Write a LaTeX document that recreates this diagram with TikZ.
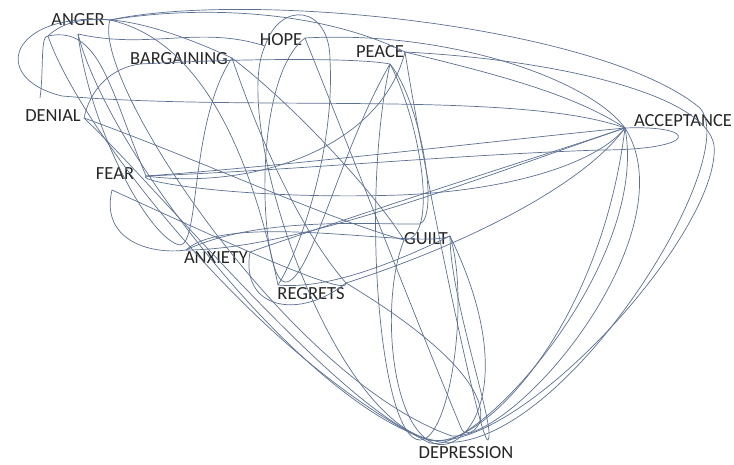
\documentclass[tikz,border=0pt]{standalone}
\usepackage{fontspec}
\setmainfont{Carlito}
\definecolor{scrib}{RGB}{92,112,146}
\begin{document}
\begin{tikzpicture}[x=1pt, y=-1pt, line width=0.7pt, every node/.style={inner sep=0pt, text=black!85, font=\fontsize{18.5}{20}\selectfont}]
	\useasboundingbox (0,0) rectangle (734,464);
	% 1. labels
	\node (anger) at (78,20) {ANGER};
	\node (barg) at (179,59) {BARGAINING};
	\node (hope) at (281,40) {HOPE};
	\node (peace) at (380,52) {PEACE};
	\node (denial) at (53,116) {DENIAL};
	\node (fear) at (115,174) {FEAR};
	\node (accept) at (683,121) {ACCEPTANCE};
	\node (guilt) at (426,239) {GUILT};
	\node (anxiety) at (216,258) {ANXIETY};
	\node (regrets) at (311,294) {REGRETS};
	\node (depr) at (466,453) {DEPRESSION};
	
	% 2. ends of the strokes
	\coordinate (an) at (110,20);
	\coordinate (ao) at (48,36);
	\coordinate (ap) at (78,34);
	\coordinate (ba) at (232,58);
	\coordinate (ho) at (305,38);
	\coordinate (hp) at (265,46);
	\coordinate (pe) at (405,52);
	\coordinate (pf) at (390,64);
	\coordinate (de) at (84,118);
	\coordinate (df) at (40,98);
	\coordinate (fe) at (146,176);
	\coordinate (ff) at (112,190);
	\coordinate (ac) at (625,128);
	\coordinate (gu) at (404,240);
	\coordinate (gv) at (450,236);
	\coordinate (ax) at (186,250);
	\coordinate (ay) at (250,252);
	\coordinate (re) at (278,285);
	\coordinate (rf) at (346,283);
	
	% 3. strokes
	\begin{scope}[scrib]
		% outer arcs, down round depression
		\draw (an) .. controls (250,-10) and (600,25) .. (700,108) .. controls (745,160) and (560,455) .. (440,442) .. controls (320,420) and (110,160) .. (ap);
		\draw (pe) .. controls (560,60) and (705,95) .. (714,145) .. controls (722,230) and (520,455) .. (428,440) .. controls (340,410) and (160,190) .. (de);
		\draw (ao) .. controls (80,130) and (260,360) .. (430,443) .. controls (480,455) and (650,260) .. (ac);
		\draw (hp) .. controls (230,120) and (330,420) .. (432,440) .. controls (480,450) and (600,330) .. (ac);
		\draw (an) .. controls (90,80) and (290,380) .. (452,436) .. controls (520,440) and (690,230) .. (ac);
		% top
		\draw (ho) .. controls (450,30) and (590,80) .. (ac);
		\draw (pe) .. controls (500,75) and (575,95) .. (ac);
		\draw (an) .. controls (200,5) and (320,10) .. (pe);
		\draw (ap) .. controls (150,50) and (200,25) .. (hp);
		\draw (ao) .. controls (80,5) and (150,20) .. (ba);
		\draw (hp) .. controls (280,0) and (330,5) .. (330,60) .. controls (335,150) and (300,250) .. (re);
		% left loops
		\draw (an) .. controls (10,12) and (-12,78) .. (62,96) .. controls (250,112) and (520,90) .. (ac);
		\draw (df) .. controls (44,70) and (40,35) .. (ao) .. controls (100,25) and (110,90) .. (fe);
		\draw (de) .. controls (90,90) and (110,68) .. (140,64) .. controls (250,58) and (360,58) .. (pf);
		\draw (ff) .. controls (100,240) and (150,255) .. (ax);
		% towards acceptance
		\draw (fe) .. controls (300,165) and (500,140) .. (ac);
		\draw (fe) .. controls (135,182) and (250,200) .. (400,195) .. controls (520,190) and (600,160) .. (ac);
		\draw (ac) .. controls (700,125) and (700,150) .. (600,150) .. controls (450,155) and (300,170) .. (fe);
		\draw (ay) .. controls (400,200) and (560,150) .. (ac);
		\draw (rf) .. controls (450,250) and (580,190) .. (ac);
		\draw (ac) .. controls (500,170) and (300,250) .. (ax);
		\draw (fe) .. controls (250,190) and (380,150) .. (pe);
		% from hope and peace
		\draw (pf) .. controls (360,200) and (380,440) .. (420,440) .. controls (450,440) and (470,300) .. (gv);
		\draw (pe) .. controls (420,150) and (480,445) .. (488,440) .. controls (497,430) and (450,300) .. (gv);
		\draw (ho) .. controls (250,80) and (260,280) .. (285,282) .. controls (310,284) and (340,150) .. (pf);
		\draw (ho) .. controls (350,150) and (420,330) .. (462,430) .. controls (470,445) and (540,400) .. (rf);
		\draw (pf) .. controls (420,120) and (440,240) .. (gu);
		% guilt
		\draw (gu) .. controls (380,300) and (390,430) .. (436,444) .. controls (470,452) and (520,380) .. (gv);
		\draw (gv) .. controls (400,260) and (330,290) .. (re);
		\draw (de) .. controls (200,160) and (330,220) .. (gu);
		\draw (ax) .. controls (260,215) and (380,225) .. (420,224) .. controls (440,215) and (420,100) .. (pf);
		\draw (ax) .. controls (230,210) and (420,250) .. (gv);
		% bargaining and anger
		\draw (ap) .. controls (90,130) and (150,240) .. (180,245) .. controls (200,245) and (190,120) .. (ba);
		\draw (ba) .. controls (260,140) and (300,230) .. (rf);
		\draw (ba) .. controls (300,110) and (380,200) .. (gu);
		\draw (an) .. controls (200,40) and (250,150) .. (re);
		\draw (ff) .. controls (200,230) and (350,300) .. (rf);
		\draw (ay) .. controls (240,310) and (300,320) .. (rf);
	\end{scope}
\end{tikzpicture}
\end{document}
